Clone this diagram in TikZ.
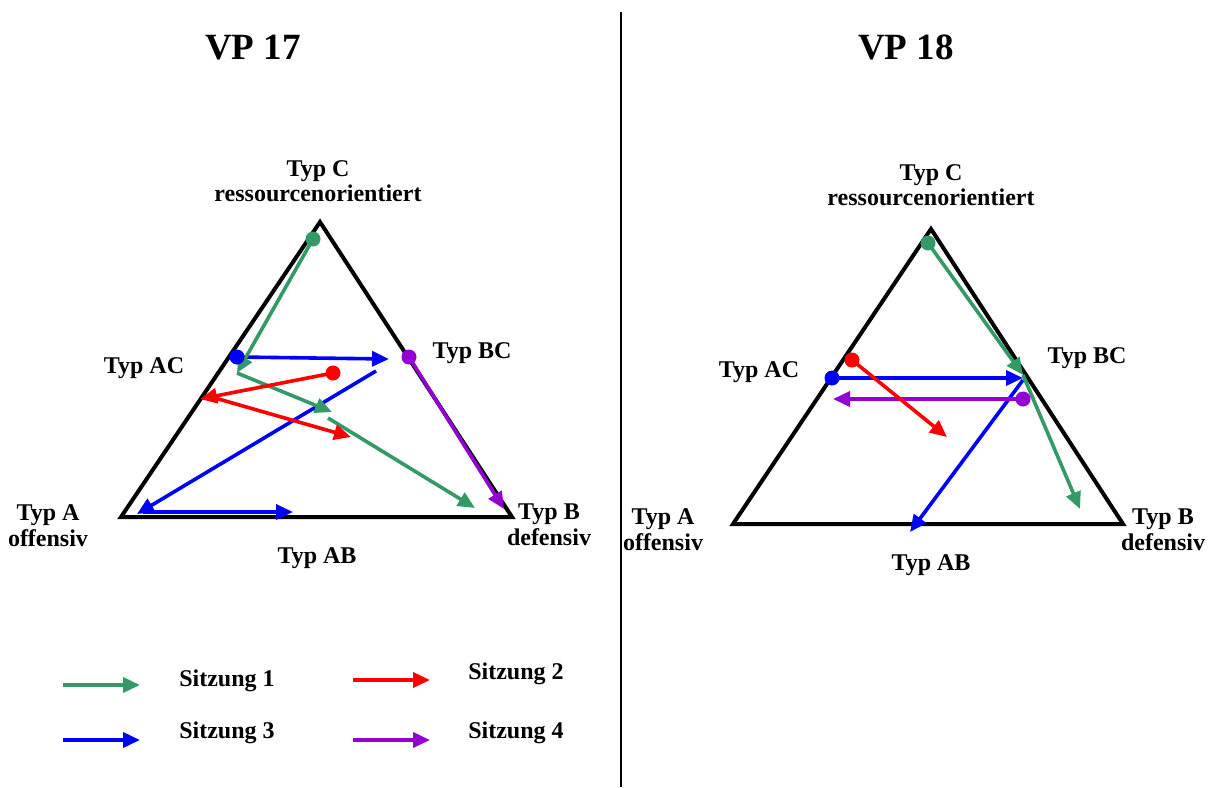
\documentclass[tikz,border=0pt]{standalone}
\usepackage{fontspec}
\setmainfont{Liberation Serif}
\usetikzlibrary{arrows.meta}
\definecolor{sgreen}{RGB}{51,153,102}
\definecolor{sred}{RGB}{255,0,0}
\definecolor{sblue}{RGB}{0,0,255}
\definecolor{spurple}{RGB}{148,0,211}
\tikzset{
  arr/.style={line width=3.6pt, -{Triangle[length=17pt,width=15pt]}},
  tri/.style={line width=4pt, line join=miter},
  dotnode/.style={circle, inner sep=0pt, minimum size=15pt, fill=#1},
  lbl/.style={font=\fontsize{24}{26}\selectfont\bfseries, align=center, anchor=base, inner sep=0pt},
  lblc/.style={font=\fontsize{24}{25}\selectfont\bfseries, align=center, anchor=base, inner sep=0pt},
  ttl/.style={font=\fontsize{37}{37}\selectfont\bfseries, anchor=base, inner sep=0pt},
}
\begin{document}
\begin{tikzpicture}[x=1pt, y=-1pt]
\useasboundingbox (0,0) rectangle (1220,787);
% separator
\coordinate (sepT) at (621,12);
\coordinate (sepB) at (621,787);
\draw[line width=2.5pt] (sepT) -- (sepB);
% titles
\node[ttl] (t17) at (253,59) {VP 17};
\node[ttl] (t18) at (906,59) {VP 18};

% ---------- left triangle ----------
\coordinate (LA) at (121,517);
\coordinate (LB) at (512,517);
\coordinate (LC) at (320,222);
\draw[tri] (LA) -- (LB) -- (LC) -- cycle;
\node[lblc] (lTC) at (318,201) {Typ C\\ressourcenorientiert};
\node[lbl] (lTAC) at (144,373) {Typ AC};
\node[lbl] (lTBC) at (472,358) {Typ BC};
\node[lbl] (lTA) at (48,546) {Typ A\\offensiv};
\node[lbl] (lTB) at (549,545) {Typ B\\defensiv};
\node[lbl] (lTAB) at (317,563) {Typ AB};

% points
\coordinate (lb0) at (237,357);
\coordinate (lb1) at (389,359);
\coordinate (lb2s) at (376,371);
\coordinate (lb2) at (137,514);
\coordinate (lb3s) at (143,512);
\coordinate (lb3) at (293,512);
\coordinate (lg0) at (313,239);
\coordinate (lg1) at (237,373);
\coordinate (lg2) at (332,412);
\coordinate (lg3s) at (328,418);
\coordinate (lg3) at (475,508);
\coordinate (lr0) at (333,373);
\coordinate (lr1) at (200,399);
\coordinate (lr2s) at (215,398);
\coordinate (lr2) at (351,437);
\coordinate (lp0) at (409,357);
\coordinate (lp1) at (504,509);

\draw[arr, sblue] (lb0) -- (lb1);
\draw[arr, sblue] (lb2s) -- (lb2);
\draw[arr, sblue] (lb3s) -- (lb3);
\draw[arr, sgreen] (lg0) -- (lg1);
\draw[arr, sgreen] (lg1) -- (lg2);
\draw[arr, sgreen] (lg3s) -- (lg3);
\draw[arr, sred] (lr0) -- (lr1);
\draw[arr, sred] (lr2s) -- (lr2);
\draw[arr, spurple] (lp0) -- (lp1);
\node[dotnode=sblue] (ldb) at (lb0) {};
\node[dotnode=sgreen] (ldg) at (lg0) {};
\node[dotnode=sred] (ldr) at (lr0) {};
\node[dotnode=spurple] (ldp) at (lp0) {};

% ---------- right triangle ----------
\coordinate (RA) at (733,524);
\coordinate (RB) at (1123,524);
\coordinate (RC) at (931,229);
\draw[tri] (RA) -- (RB) -- (RC) -- cycle;
\node[lblc] (rTC) at (931,205) {Typ C\\ressourcenorientiert};
\node[lbl] (rTAC) at (759,377) {Typ AC};
\node[lbl] (rTBC) at (1087,363) {Typ BC};
\node[lbl] (rTA) at (663,550) {Typ A\\offensiv};
\node[lbl] (rTB) at (1163,550) {Typ B\\defensiv};
\node[lbl] (rTAB) at (931,570) {Typ AB};

\coordinate (rb0) at (832,378);
\coordinate (rb1) at (1023,378);
\coordinate (rb2s) at (1023,380);
\coordinate (rb2) at (910,532);
\coordinate (rg0) at (928,243);
\coordinate (rg1) at (1023,375);
\coordinate (rg2) at (1080,509);
\coordinate (rr0) at (852,360);
\coordinate (rr1) at (947,437);
\coordinate (rp0) at (1023,399);
\coordinate (rp1) at (833,399);

\draw[arr, sblue] (rb0) -- (rb1);
\draw[arr, sblue] (rb2s) -- (rb2);
\draw[arr, spurple] (rp0) -- (rp1);
\draw[arr, sgreen] (rg0) -- (rg1);
\draw[arr, sgreen] (rg1) -- (rg2);
\draw[arr, sred] (rr0) -- (rr1);
\node[dotnode=sblue] (rdb) at (rb0) {};
\node[dotnode=sgreen] (rdg) at (rg0) {};
\node[dotnode=sred] (rdr) at (rr0) {};
\node[dotnode=spurple] (rdp) at (rp0) {};

% ---------- legend ----------
\coordinate (k1s) at (63,685);
\coordinate (k1e) at (140,685);
\coordinate (k2s) at (353,680);
\coordinate (k2e) at (430,680);
\coordinate (k3s) at (63,740);
\coordinate (k3e) at (140,740);
\coordinate (k4s) at (353,740);
\coordinate (k4e) at (430,740);
\draw[arr, sgreen] (k1s) -- (k1e);
\draw[arr, sred] (k2s) -- (k2e);
\draw[arr, sblue] (k3s) -- (k3e);
\draw[arr, spurple] (k4s) -- (k4e);
\node[lbl] (s1) at (227,686) {Sitzung 1};
\node[lbl] (s2) at (516,679) {Sitzung 2};
\node[lbl] (s3) at (227,738) {Sitzung 3};
\node[lbl] (s4) at (516,738) {Sitzung 4};
\end{tikzpicture}
\end{document}
